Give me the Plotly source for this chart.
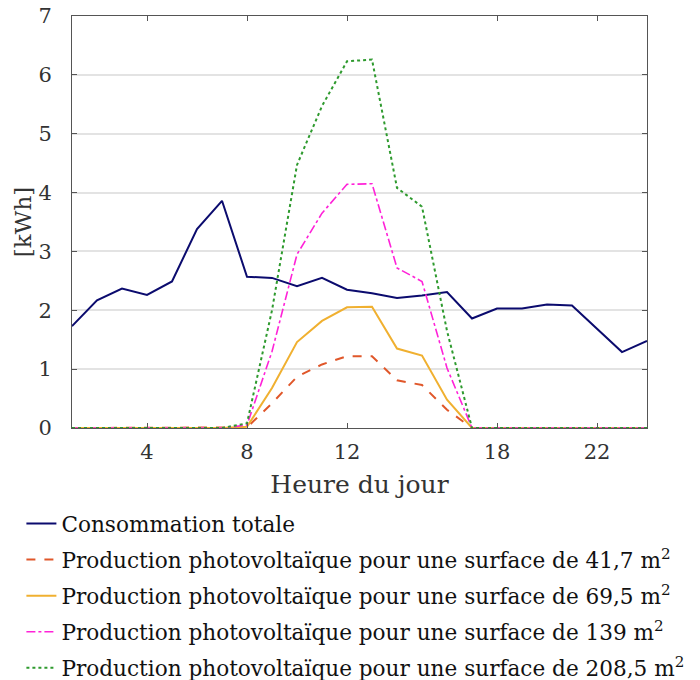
import plotly.graph_objects as go

hours = list(range(1, 25))

consommation = [1.73, 2.17, 2.37, 2.26, 2.49, 3.38, 3.86, 2.57, 2.55, 2.41, 2.55, 2.35,
                2.29, 2.21, 2.25, 2.31, 1.86, 2.03, 2.03, 2.10, 2.08, 1.69, 1.29, 1.48]
pv_41_7 = [0, 0, 0, 0, 0, 0, 0, 0.01, 0.42, 0.87, 1.08, 1.22,
           1.22, 0.81, 0.73, 0.31, 0, 0, 0, 0, 0, 0, 0, 0]
pv_69_5 = [0, 0, 0, 0, 0, 0, 0, 0.02, 0.68, 1.46, 1.82, 2.05,
           2.06, 1.35, 1.23, 0.48, 0, 0, 0, 0, 0, 0, 0, 0]
pv_139 = [0, 0, 0, 0, 0, 0, 0, 0.05, 1.3, 2.95, 3.65, 4.14,
          4.15, 2.72, 2.49, 1.02, 0, 0, 0, 0, 0, 0, 0, 0]
pv_208_5 = [0, 0, 0, 0, 0, 0, 0, 0.08, 2.0, 4.47, 5.47, 6.23,
            6.26, 4.08, 3.76, 1.65, 0, 0, 0, 0, 0, 0, 0, 0]

x_tickvals = [4, 8, 12, 18, 22]
y_tickvals = [0, 1, 2, 3, 4, 5, 6, 7]

names = [
    "Consommation totale",
    "Production photovoltaïque pour une surface de 41,7 m<sup>2</sup>",
    "Production photovoltaïque pour une surface de 69,5 m<sup>2</sup>",
    "Production photovoltaïque pour une surface de 139 m<sup>2</sup>",
    "Production photovoltaïque pour une surface de 208,5 m<sup>2</sup>",
]

FONT = "DejaVu Serif"

fig = go.Figure()
series = [
    (consommation, dict(color="#0b0b6e", width=2)),
    (pv_41_7, dict(color="#e0572a", width=2, dash="dash")),
    (pv_69_5, dict(color="#f0b030", width=2)),
    (pv_139, dict(color="#ff22d8", width=1.6, dash="dashdot")),
    (pv_208_5, dict(color="#2e9a2e", width=2, dash="dot")),
]
for i, (vals, ln) in enumerate(series):
    fig.add_trace(go.Scatter(x=hours, y=vals, mode="lines", name=names[i],
                             legendgroup=f"g{i}", line=ln))

axis_common = dict(showline=True, linecolor="#555555", linewidth=1, mirror="allticks",
                   ticks="inside", ticklen=5, tickcolor="#555555",
                   tickfont=dict(family=FONT, size=21, color="#333333"), zeroline=False)

fig.update_xaxes(range=[1, 24], tickvals=x_tickvals, showgrid=False, ticklabelstandoff=5,
                 title=dict(text="Heure du jour", font=dict(family=FONT, size=25, color="#333333"),
                            standoff=12),
                 **axis_common)
fig.update_yaxes(range=[0, 7], tickvals=y_tickvals, showgrid=True, gridcolor="#e3e3e3",
                 gridwidth=1.5, ticklabelstandoff=15,
                 title=dict(text="[kWh]", font=dict(family=FONT, size=23, color="#333333"),
                            standoff=0),
                 **axis_common)

fig.update_layout(
    width=700, height=680,
    margin=dict(l=72, r=53, t=16, b=252, autoexpand=False),
    plot_bgcolor="white", paper_bgcolor="white",
    font=dict(family=FONT, color="#111111"),
    showlegend=True,
    legend=dict(orientation="v", x=-0.088, y=-0.182, xanchor="left", yanchor="top",
                font=dict(family=FONT, size=21.6, color="#111111"),
                bgcolor="rgba(0,0,0,0)", tracegroupgap=5),
)

fig.write_html("out.html", config={"displayModeBar": False},
               post_script="document.body.style.margin='0';document.body.style.overflow='hidden';")
